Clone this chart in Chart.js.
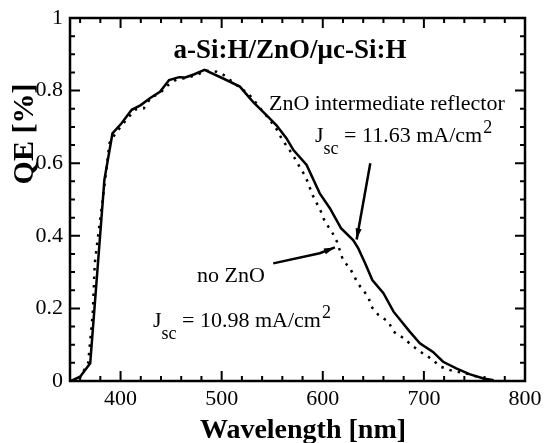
<!DOCTYPE html>
<html>
<head>
<meta charset="utf-8">
<script src="https://cdn.jsdelivr.net/npm/chart.js@4.4.1/dist/chart.umd.min.js"></script>
<style>
html, body { margin: 0; padding: 0; background: #fff; }
#chart { display: block; }
</style>
</head>
<body>
<canvas id="chart" width="544" height="443"></canvas>
<script>
// ZnO intermediate reflector (solid)
const znoWl = [351, 360, 370, 382.5, 384, 392, 401, 411, 420, 429, 439, 448, 458, 464, 473, 483, 501, 518, 531, 544, 554, 564, 571, 584, 597, 607, 618, 630, 635, 642, 649, 660, 670, 686, 696, 709, 719, 732, 745, 759, 769];
const znoQE = [0, 0.012, 0.049, 0.499, 0.554, 0.682, 0.71, 0.747, 0.76, 0.779, 0.797, 0.829, 0.837, 0.836, 0.845, 0.857, 0.834, 0.811, 0.769, 0.733, 0.705, 0.669, 0.636, 0.595, 0.517, 0.476, 0.421, 0.388, 0.366, 0.324, 0.278, 0.242, 0.191, 0.136, 0.104, 0.08, 0.053, 0.035, 0.019, 0.007, 0.002];

// no ZnO (dotted)
const noZnoWl = [351, 360, 368, 372.5, 374.5, 378.5, 381, 385, 389, 394, 399, 407, 415, 423, 430, 439, 447, 455, 465, 475, 485, 495, 501, 515, 527, 540, 549, 555, 560, 566, 571, 577, 583, 590, 594, 599, 602, 609, 614, 620, 627, 633, 637, 645, 648, 655, 665, 670, 680, 689, 699, 708, 716, 726, 744, 752, 762, 770];
const noZnoQE = [0, 0.01, 0.05, 0.186, 0.324, 0.416, 0.47, 0.56, 0.655, 0.678, 0.696, 0.724, 0.748, 0.751, 0.781, 0.793, 0.815, 0.83, 0.835, 0.843, 0.855, 0.852, 0.845, 0.815, 0.79, 0.745, 0.714, 0.691, 0.664, 0.641, 0.62, 0.59, 0.563, 0.512, 0.49, 0.462, 0.439, 0.411, 0.384, 0.333, 0.31, 0.278, 0.26, 0.232, 0.205, 0.182, 0.163, 0.136, 0.118, 0.096, 0.076, 0.06, 0.04, 0.03, 0.019, 0.012, 0.005, 0];

const xTicks = [400, 500, 600, 700, 800];
const yTicks = [0, 0.2, 0.4, 0.6, 0.8, 1];

// arrows, in data units [wavelength, QE]
const znoArrow = [[647, 0.6], [633.5, 0.39]];
const noZnoArrow = [[551, 0.324], [597, 0.352], [612, 0.368]];

const serif = '"Liberation Serif", "Times New Roman", serif';

function pts(xs, ys) {
    return xs.map((x, i) => ({ x: x, y: ys[i] }));
}

function arrow(ctx, sx, sy, path) {
    const p = path.map(d => [sx.getPixelForValue(d[0]), sy.getPixelForValue(d[1])]);
    ctx.beginPath();
    ctx.moveTo(p[0][0], p[0][1]);
    for (let i = 1; i < p.length; i++) ctx.lineTo(p[i][0], p[i][1]);
    ctx.stroke();
    const a = p[p.length - 2], b = p[p.length - 1];
    const ang = Math.atan2(b[1] - a[1], b[0] - a[0]);
    const len = 11, w = 3;
    ctx.beginPath();
    ctx.moveTo(b[0], b[1]);
    ctx.lineTo(b[0] - len * Math.cos(ang) + w * Math.sin(ang), b[1] - len * Math.sin(ang) - w * Math.cos(ang));
    ctx.lineTo(b[0] - len * Math.cos(ang) - w * Math.sin(ang), b[1] - len * Math.sin(ang) + w * Math.cos(ang));
    ctx.closePath();
    ctx.fill();
}

function jsc(ctx, x, y, rest) {
    ctx.textAlign = 'left';
    ctx.font = '22px ' + serif;
    ctx.fillText('J', x, y);
    x += ctx.measureText('J').width;
    ctx.font = '18px ' + serif;
    ctx.fillText('sc', x, y + 12);
    x += ctx.measureText('sc').width;
    ctx.font = '22px ' + serif;
    ctx.fillText(rest, x, y);
    x += ctx.measureText(rest).width;
    ctx.font = '18px ' + serif;
    ctx.fillText('2', x + 1, y - 9);
}

const decor = {
    id: 'decor',
    afterDraw(chart) {
        const { ctx, chartArea: a, scales: { x, y } } = chart;
        ctx.save();
        ctx.strokeStyle = '#000';
        ctx.fillStyle = '#000';

        // frame
        ctx.lineWidth = 2.5;
        ctx.strokeRect(a.left, a.top, a.right - a.left, a.bottom - a.top);

        // inward ticks on all four sides
        ctx.lineWidth = 2;
        ctx.beginPath();
        for (let v = 360; v < 800; v += 20) {
            const px = x.getPixelForValue(v);
            const len = v % 100 === 0 ? 10 : 5;
            ctx.moveTo(px, a.bottom); ctx.lineTo(px, a.bottom - len);
            ctx.moveTo(px, a.top); ctx.lineTo(px, a.top + len);
        }
        for (let i = 1; i < 20; i++) {
            const py = y.getPixelForValue(i * 0.05);
            const len = i % 4 === 0 ? 10 : 5;
            ctx.moveTo(a.left, py); ctx.lineTo(a.left + len, py);
            ctx.moveTo(a.right, py); ctx.lineTo(a.right - len, py);
        }
        ctx.stroke();

        // titles
        ctx.textBaseline = 'alphabetic';
        ctx.textAlign = 'center';
        ctx.font = 'bold 27px ' + serif;
        ctx.fillText('a-Si:H/ZnO/\u03bcc-Si:H', 290, 58);
        ctx.font = 'bold 28px ' + serif;
        ctx.fillText('Wavelength [nm]', 303, 438);
        ctx.save();
        ctx.translate(33, 134);
        ctx.rotate(-Math.PI / 2);
        ctx.font = 'bold 30px ' + serif;
        ctx.fillText('QE [%]', 0, 0);
        ctx.restore();

        // labels
        ctx.textAlign = 'left';
        ctx.font = '22px ' + serif;
        ctx.fillText('ZnO intermediate reflector', 269, 110);
        jsc(ctx, 315, 142, ' = 11.63 mA/cm');
        ctx.font = '22px ' + serif;
        ctx.fillText('no ZnO', 197, 282);
        jsc(ctx, 153, 327, ' = 10.98 mA/cm');

        // arrows
        ctx.lineWidth = 2.5;
        arrow(ctx, x, y, znoArrow);
        arrow(ctx, x, y, noZnoArrow);
        ctx.restore();
    }
};

const ctx = document.querySelector('#chart').getContext('2d');
const chart = new Chart(ctx, {
    type: 'line',
    data: {
        datasets: [
            {
                label: 'ZnO intermediate reflector',
                data: pts(znoWl, znoQE),
                borderColor: '#000',
                borderWidth: 2.5,
                pointRadius: 0,
                tension: 0
            },
            {
                label: 'no ZnO',
                data: pts(noZnoWl, noZnoQE),
                borderColor: '#000',
                borderWidth: 2.5,
                borderDash: [2.5, 6],
                borderCapStyle: 'butt',
                pointRadius: 0,
                tension: 0
            }
        ]
    },
    options: {
        responsive: false,
        animation: false,
        devicePixelRatio: 1,
        layout: { padding: { left: 0, right: 19, top: 18, bottom: 0 } },
        plugins: {
            legend: { display: false },
            tooltip: { enabled: false }
        },
        scales: {
            x: {
                type: 'linear',
                min: 350,
                max: 800,
                afterBuildTicks: s => { s.ticks = xTicks.map(v => ({ value: v })); },
                afterFit: s => { s.height = 62; s.paddingLeft = 0; s.paddingRight = 0; },
                grid: { display: false, drawTicks: false },
                border: { display: false },
                ticks: {
                    color: '#000',
                    padding: 5,
                    maxRotation: 0,
                    autoSkip: false,
                    font: { family: serif, size: 22 }
                }
            },
            y: {
                type: 'linear',
                min: 0,
                max: 1,
                afterBuildTicks: s => { s.ticks = yTicks.map(v => ({ value: v })); },
                afterFit: s => { s.width = 70; s.paddingTop = 0; s.paddingBottom = 0; },
                grid: { display: false, drawTicks: false },
                border: { display: false },
                ticks: {
                    color: '#000',
                    padding: 7,
                    autoSkip: false,
                    callback: v => String(v),
                    font: { family: serif, size: 22 }
                }
            }
        }
    },
    plugins: [decor]
});
</script>
</body>
</html>
